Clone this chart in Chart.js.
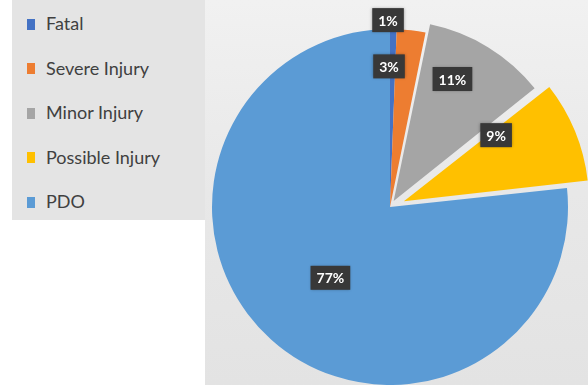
<!DOCTYPE html>
<html>
<head>
<meta charset="utf-8">
<script src="https://cdn.jsdelivr.net/npm/chart.js@4/dist/chart.umd.min.js"></script>
<style>
  html, body { margin:0; padding:0; background:#ffffff; }
  #wrap { position:relative; width:588px; height:385px; overflow:hidden; }
  #c { position:absolute; left:0; top:0; }
  #legend { position:absolute; left:12px; top:0; width:193px; height:220px; background:#e4e4e4;
            font-family: Lato, "Open Sans", sans-serif; font-size:18px; color:#404040; }
  .item { position:absolute; left:15px; height:22px; line-height:22px; white-space:nowrap; }
  .sw { display:inline-block; width:8px; height:11px; vertical-align:middle; margin-right:11px; position:relative; top:-1px; }
</style>
</head>
<body>
<div id="wrap">
  <canvas id="c" width="588" height="385"></canvas>
  <div id="legend"></div>
</div>
<script>
// ---- data ----
const categories = ["Fatal", "Severe Injury", "Minor Injury", "Possible Injury", "PDO"];
const shares = [0.6, 2.6, 11.1, 9.0, 76.7];   // percent of crashes
const colors = ["#4472C4", "#ED7D31", "#A5A5A5", "#FFC000", "#5B9BD5"];
const explode = [0, 0, 28, 60, 0];   // Chart.js v4 draws offset/4

// label placement (style): [angle from top in degrees, fraction of radius]
const labelPolar = [[-0.6, 1.05], [-0.4, 0.79], [26.0, 0.80], [55.9, 0.72], [220.1, 0.52]];

// HTML legend built from the categories
const lg = document.getElementById('legend');
categories.forEach((name, i) => {
  const d = document.createElement('div');
  d.className = 'item';
  d.style.top = (12 + i * 44.5) + 'px';
  const s = document.createElement('span');
  s.className = 'sw';
  s.style.background = colors[i];
  d.appendChild(s);
  d.appendChild(document.createTextNode(name));
  lg.appendChild(d);
});

const bgPlugin = {
  id: 'bg',
  beforeDraw(chart) {
    const ctx = chart.ctx;
    ctx.save();
    const g = ctx.createLinearGradient(0, 0, 0, 385);
    g.addColorStop(0, '#f1f1f1');
    g.addColorStop(0.5, '#e8e8e8');
    g.addColorStop(1, '#e3e3e3');
    ctx.fillStyle = g;
    ctx.fillRect(205, 0, 383, 385);
    ctx.restore();
  }
};

const labelPlugin = {
  id: 'pctLabels',
  afterDatasetsDraw(chart) {
    const ctx = chart.ctx;
    const meta = chart.getDatasetMeta(0);
    const total = shares.reduce((a, b) => a + b, 0);
    ctx.save();
    ctx.font = 'bold 14px Lato, "Open Sans", sans-serif';
    ctx.textAlign = 'center';
    ctx.textBaseline = 'middle';
    meta.data.forEach((arc, i) => {
      const p = arc.getProps(['x', 'y', 'outerRadius'], true);
      const a = labelPolar[i][0] * Math.PI / 180;
      const r = labelPolar[i][1] * p.outerRadius;
      const x = p.x + r * Math.sin(a);
      const y = p.y - r * Math.cos(a);
      const txt = Math.round(shares[i] / total * 100) + '%';
      const w = ctx.measureText(txt).width + 12;
      const h = 24;
      ctx.shadowColor = 'rgba(0,0,0,0.35)';
      ctx.shadowBlur = 3;
      ctx.fillStyle = '#383838';
      ctx.fillRect(x - w / 2, y - h / 2, w, h);
      ctx.shadowBlur = 0;
      ctx.fillStyle = '#ffffff';
      ctx.fillText(txt, x, y + 1);
    });
    ctx.restore();
  }
};

new Chart(document.getElementById('c'), {
  type: 'pie',
  data: {
    labels: categories,
    datasets: [{
      data: shares,
      backgroundColor: colors,
      borderWidth: 0,
      offset: explode
    }]
  },
  options: {
    responsive: false,
    animation: false,
    radius: 178,
    layout: { padding: { left: 205, right: 13, top: 29, bottom: 0 } },
    plugins: { legend: { display: false }, tooltip: { enabled: false } }
  },
  plugins: [bgPlugin, labelPlugin]
});
</script>
</body>
</html>
